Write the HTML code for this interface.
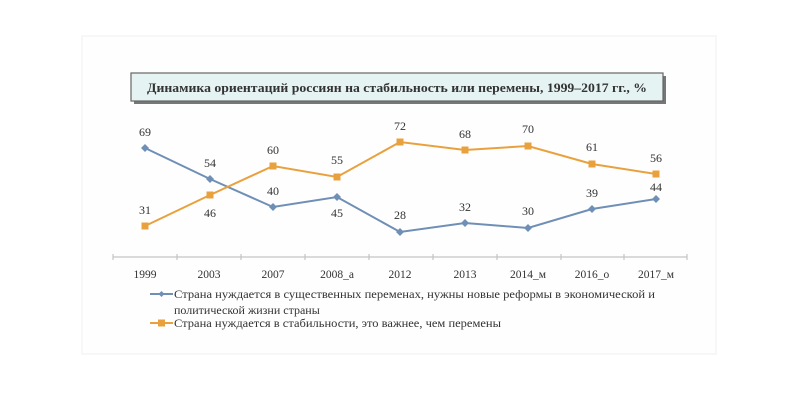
<!DOCTYPE html>
<html><head><meta charset="utf-8"><style>
html,body{margin:0;padding:0;background:#fff;}
svg{display:block;}
text{font-family:"Liberation Serif","Noto Serif CJK SC",serif;fill:#333;}
</style></head><body>
<svg width="800" height="400" viewBox="0 0 800 400" xmlns="http://www.w3.org/2000/svg">
<rect x="0" y="0" width="800" height="400" fill="#ffffff"/>
<rect x="82" y="36" width="634" height="318" fill="#fefefe" stroke="#f7f7f7" stroke-width="2"/>
<!-- title box -->
<rect x="134" y="76" width="532" height="28" fill="#555" opacity="0.8"/>
<rect x="131" y="73" width="532" height="28" fill="#e6f3f3" stroke="#666" stroke-width="1.2"/>
<text x="397" y="92" text-anchor="middle" font-size="13" font-weight="bold" fill="#222" textLength="500" lengthAdjust="spacingAndGlyphs">Динамика ориентаций россиян на стабильность или перемены, 1999–2017 гг., %</text>
<!-- axis -->
<line x1="113" y1="257" x2="687" y2="257" stroke="#c4c4c4" stroke-width="1.2"/>
<g stroke="#c4c4c4" stroke-width="1.2">
<line x1="113" y1="254" x2="113" y2="260"/><line x1="177" y1="254" x2="177" y2="260"/><line x1="241" y1="254" x2="241" y2="260"/><line x1="305" y1="254" x2="305" y2="260"/><line x1="369" y1="254" x2="369" y2="260"/><line x1="433" y1="254" x2="433" y2="260"/><line x1="497" y1="254" x2="497" y2="260"/><line x1="561" y1="254" x2="561" y2="260"/><line x1="624" y1="254" x2="624" y2="260"/><line x1="687" y1="254" x2="687" y2="260"/>
</g>
<g font-size="11.5" text-anchor="middle">
<text x="145" y="278">1999</text><text x="209" y="278">2003</text><text x="273" y="278">2007</text><text x="337" y="278">2008_а</text><text x="400" y="278">2012</text><text x="465" y="278">2013</text><text x="528" y="278">2014_м</text><text x="592" y="278">2016_о</text><text x="656" y="278">2017_м</text>
</g>
<!-- series -->
<polyline points="145,148 210,179 273,207 337,197 400,232 465,223 528,228 592,209 656,199" fill="none" stroke="#6f8fb6" stroke-width="2"/>
<polyline points="145,226 210,195 273,166 337,177 400,142 465,150 528,146 592,164 656,174" fill="none" stroke="#e9a13d" stroke-width="2"/>
<g fill="#6f8fb6">
<polygon points="145,144 149,148 145,152 141,148"/><polygon points="210,175 214,179 210,183 206,179"/><polygon points="273,203 277,207 273,211 269,207"/><polygon points="337,193 341,197 337,201 333,197"/><polygon points="400,228 404,232 400,236 396,232"/><polygon points="465,219 469,223 465,227 461,223"/><polygon points="528,224 532,228 528,232 524,228"/><polygon points="592,205 596,209 592,213 588,209"/><polygon points="656,195 660,199 656,203 652,199"/>
</g>
<g fill="#e9a13d">
<rect x="141.5" y="222.5" width="7" height="7"/><rect x="206.5" y="191.5" width="7" height="7"/><rect x="269.5" y="162.5" width="7" height="7"/><rect x="333.5" y="173.5" width="7" height="7"/><rect x="396.5" y="138.5" width="7" height="7"/><rect x="461.5" y="146.5" width="7" height="7"/><rect x="524.5" y="142.5" width="7" height="7"/><rect x="588.5" y="160.5" width="7" height="7"/><rect x="652.5" y="170.5" width="7" height="7"/>
</g>
<g font-size="12" text-anchor="middle">
<text x="145" y="136">69</text><text x="210" y="167">54</text><text x="273" y="195">40</text><text x="337" y="217">45</text><text x="400" y="219">28</text><text x="465" y="211">32</text><text x="528" y="215">30</text><text x="592" y="197">39</text><text x="656" y="191">44</text>
<text x="145" y="214">31</text><text x="210" y="217">46</text><text x="273" y="154">60</text><text x="337" y="164">55</text><text x="400" y="130">72</text><text x="465" y="138">68</text><text x="528" y="133">70</text><text x="592" y="151">61</text><text x="656" y="162">56</text>
</g>
<!-- legend -->
<line x1="150" y1="294" x2="173" y2="294" stroke="#6f8fb6" stroke-width="2"/>
<polygon points="161.5,291 164.5,294 161.5,297 158.5,294" fill="#6f8fb6"/>
<text x="174" y="298" font-size="12" textLength="481" lengthAdjust="spacingAndGlyphs">Страна нуждается в существенных переменах, нужны новые реформы в экономической и</text>
<text x="174" y="314" font-size="12">политической жизни страны</text>
<line x1="150" y1="323" x2="173" y2="323" stroke="#e9a13d" stroke-width="2"/>
<rect x="158" y="319.5" width="7" height="7" fill="#e9a13d"/>
<text x="174" y="327" font-size="12" textLength="327" lengthAdjust="spacingAndGlyphs">Страна нуждается в стабильности, это важнее, чем перемены</text>
</svg>
</body></html>
